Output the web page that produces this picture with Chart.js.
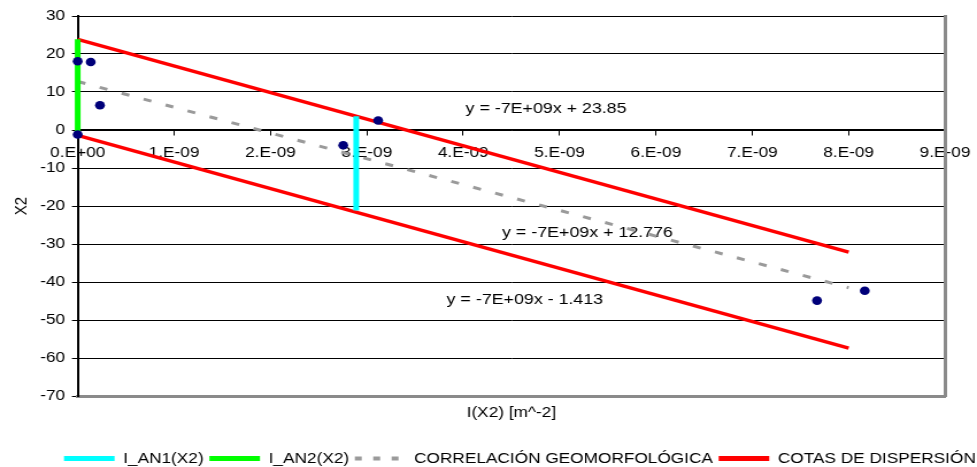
<!DOCTYPE html>
<html>
<head>
<meta charset="utf-8">
<script src="https://cdn.jsdelivr.net/npm/chart.js@4.4.1/dist/chart.umd.min.js"></script>
<style>
  html, body { margin: 0; padding: 0; background: #fff; overflow: hidden; }
  /* drawing surface is 850 wide and widened to span the full 977 px */
  #wrap { width: 850px; height: 467px; transform: scaleX(1.149412); transform-origin: 0 0; }
  #chart { display: block; }
</style>
</head>
<body>
<div id="wrap"><canvas id="chart" width="850" height="467" style="width:850px;height:467px"></canvas></div>
<script>
// Observed points: I(X2) [m^-2] against X2
const obsI  = [0, 0.135e-9, 0.231e-9, 0, 2.755e-9, 3.118e-9, 7.672e-9, 8.167e-9];
const obsX2 = [18.1, 17.9, 6.5, -1.2, -4.0, 2.5, -44.9, -42.3];

// Straight lines, given by their end points
const lineI        = [0, 8e-9];
const upperBound   = [23.85, -32.15];   // y = -7E+09x + 23.85
const correlation  = [12.776, -41.5];   // y = -7E+09x + 12.776
const lowerBound   = [-1.413, -57.41];  // y = -7E+09x - 1.413

// Vertical spans between the dispersion bounds
const an1I  = [2.89e-9, 2.89e-9];
const an1X2 = [3.6, -21.2];
const an2I  = [0, 0];
const an2X2 = [23.85, -1.413];

// Axis ticks
const xTickValues = [0, 1e-9, 2e-9, 3e-9, 4e-9, 5e-9, 6e-9, 7e-9, 8e-9, 9e-9];
const xTickLabels = ['0.E+00', '1.E-09', '2.E-09', '3.E-09', '4.E-09', '5.E-09', '6.E-09', '7.E-09', '8.E-09', '9.E-09'];
const yTickValues = [30, 20, 10, 0, -10, -20, -30, -40, -50, -60, -70];

// Trend-line equations
const equationTexts = ['y = -7E+09x + 23.85', 'y = -7E+09x + 12.776', 'y = -7E+09x - 1.413'];

// Legend entries
const legendNames = ['I_AN1(X2)', 'I_AN2(X2)', 'CORRELACIÓN GEOMORFOLÓGICA', 'COTAS DE DISPERSIÓN'];

const pts = (xs, ys) => xs.map((v, i) => ({ x: v, y: ys[i] }));

const FONT = '"Liberation Sans", Arial, Helvetica, sans-serif';
Chart.defaults.font.family = FONT;
Chart.defaults.font.size = 15;
Chart.defaults.color = '#000';

const CYAN = '#00ffff', GREEN = '#00ff00', GREY = '#9a9a9a', RED = '#ff0000', NAVY = '#00007a';
const FRAME = '#8a8a8a';

const equationPlugin = {
  id: 'equations',
  beforeDatasetsDraw(chart) {
    const { ctx, scales: { x, y } } = chart;
    // anchors of the equation texts, in data units
    const anchors = [[4.86e-9, 5.7], [5.29e-9, -27.0], [4.64e-9, -44.7]];
    ctx.save();
    ctx.font = '15.5px ' + FONT;
    ctx.fillStyle = '#000';
    ctx.textAlign = 'center';
    ctx.textBaseline = 'middle';
    equationTexts.forEach((t, i) => {
      ctx.fillText(t, x.getPixelForValue(anchors[i][0]), y.getPixelForValue(anchors[i][1]));
    });
    ctx.restore();
  }
};

const whiteBg = {
  id: 'whiteBg',
  beforeDraw(chart) {
    const { ctx, width, height } = chart;
    ctx.save();
    ctx.fillStyle = '#fff';
    ctx.fillRect(0, 0, width, height);
    ctx.restore();
  }
};

const lineDs = (data, color, width, dash) => ({
  data,
  showLine: true,
  borderColor: color,
  backgroundColor: color,
  borderWidth: width,
  borderDash: dash || [],
  pointRadius: 0,
  pointHoverRadius: 0,
  clip: false,
  fill: false
});

new Chart(document.getElementById('chart'), {
  type: 'scatter',
  data: {
    datasets: [
      {
        label: 'X2',
        data: pts(obsI, obsX2),
        pointRadius: 4.3,
        pointBackgroundColor: NAVY,
        pointBorderColor: NAVY,
        pointBorderWidth: 0,
        showLine: false,
        clip: false
      },
      lineDs(pts(an1I, an1X2), CYAN, 5),
      lineDs(pts(an2I, an2X2), GREEN, 5),
      lineDs(pts(lineI, upperBound), RED, 3.5),
      lineDs(pts(lineI, lowerBound), RED, 3.5),
      lineDs(pts(lineI, correlation), GREY, 3, [7, 13])
    ]
  },
  options: {
    responsive: false,
    animation: false,
    devicePixelRatio: 1,
    events: [],
    layout: { padding: { left: 0, right: -4, top: 16, bottom: -9 } },
    scales: {
      x: {
        type: 'linear',
        position: { y: 0 },
        min: 0,
        max: 9e-9,
        afterBuildTicks: s => { s.ticks = xTickValues.map(v => ({ value: v })); },
        ticks: {
          callback: (v, i) => xTickLabels[i],
          color: '#000',
          font: { size: 15, lineHeight: 1.85 },
          padding: 4,
          maxRotation: 0,
          autoSkip: false
        },
        grid: { drawOnChartArea: false, drawTicks: true, tickLength: 5, tickColor: '#000', color: '#000' },
        border: { color: '#000', width: 1.5 }
      },
      xb: {
        type: 'linear',
        axis: 'x',
        position: 'bottom',
        min: 0,
        max: 9e-9,
        ticks: { display: false },
        grid: { drawOnChartArea: false, drawTicks: false },
        border: { color: FRAME, width: 3 },
        title: { display: true, text: 'I(X2) [m^-2]', color: '#000', font: { size: 15 }, padding: { top: 0, bottom: 24 } },
        afterFit: s => { s.height = 50; }
      },
      y: {
        type: 'linear',
        position: 'left',
        min: -70,
        max: 30,
        afterBuildTicks: s => { s.ticks = yTickValues.map(v => ({ value: v })); },
        ticks: { color: '#000', font: { size: 15 }, padding: 6 },
        grid: { color: '#000', lineWidth: 1, tickLength: 5, tickColor: '#000' },
        border: { color: '#000', width: 2 },
        title: { display: true, text: 'X2', color: '#000', font: { size: 15 }, padding: { top: 10, bottom: 0 } },
        afterFit: s => { s.width = 67.6; }
      },
      y2: {
        type: 'linear',
        axis: 'y',
        position: 'right',
        min: -70,
        max: 30,
        ticks: { display: false },
        grid: { drawOnChartArea: false, drawTicks: false },
        border: { color: FRAME, width: 3 },
        afterFit: s => { s.width = 31.8; }
      }
    },
    plugins: {
      tooltip: { enabled: false },
      title: { display: false },
      legend: {
        display: true,
        position: 'bottom',
        align: 'end',
        labels: {
          usePointStyle: true,
          pointStyleWidth: 44,
          boxHeight: 5,
          padding: 5,
          color: '#000',
          font: { size: 15 },
          generateLabels: () => {
            const styles = [
              { c: CYAN, w: 5, d: [] },
              { c: GREEN, w: 5, d: [] },
              { c: GREY, w: 4, d: [6, 10] },
              { c: RED, w: 5, d: [] }
            ];
            return legendNames.map((name, i) => ({
              text: name,
              pointStyle: 'line',
              strokeStyle: styles[i].c,
              fillStyle: styles[i].c,
              lineWidth: styles[i].w,
              lineDash: styles[i].d,
              lineCap: 'butt',
              hidden: false,
              datasetIndex: i
            }));
          }
        }
      }
    }
  },
  plugins: [whiteBg, equationPlugin]
});
</script>
</body>
</html>
